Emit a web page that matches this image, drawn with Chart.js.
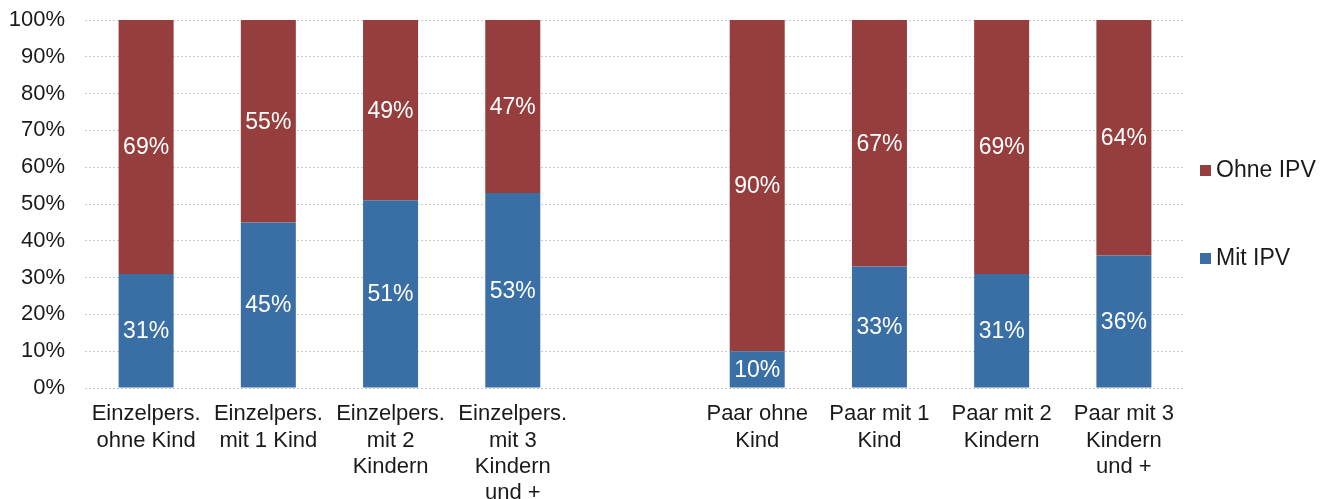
<!DOCTYPE html>
<html>
<head>
<meta charset="utf-8">
<script src="https://cdn.jsdelivr.net/npm/chart.js@4/dist/chart.umd.min.js"></script>
<style>
  html, body { margin: 0; padding: 0; background: #fff; }
  #wrap { width: 1335px; height: 499px; position: relative; }
</style>
</head>
<body>
<div id="wrap"><canvas id="c" width="1335" height="499"></canvas></div>
<script>
// Household types (empty slot separates singles from couples)
const categories = [
  ["Einzelpers.", "ohne Kind"],
  ["Einzelpers.", "mit 1 Kind"],
  ["Einzelpers.", "mit 2", "Kindern"],
  ["Einzelpers.", "mit 3", "Kindern", "und +"],
  "",
  ["Paar ohne", "Kind"],
  ["Paar mit 1", "Kind"],
  ["Paar mit 2", "Kindern"],
  ["Paar mit 3", "Kindern", "und +"]
];
const mitIPV  = [31, 45, 51, 53, null, 10, 33, 31, 36];
const ohneIPV = [69, 55, 49, 47, null, 90, 67, 69, 64];
const yTicks = [0, 10, 20, 30, 40, 50, 60, 70, 80, 90, 100];

const FONT = "'Liberation Sans', Arial, sans-serif";
const BLUE = "#3A6FA6";
const RED = "#953E3D";

// White percentage labels centred in each segment
const segmentLabels = {
  id: "segmentLabels",
  afterDatasetsDraw(chart) {
    const ctx = chart.ctx;
    ctx.save();
    ctx.fillStyle = "#ffffff";
    ctx.font = "23px " + FONT;
    ctx.textAlign = "center";
    ctx.textBaseline = "middle";
    chart.data.datasets.forEach((ds, di) => {
      chart.getDatasetMeta(di).data.forEach((bar, i) => {
        const v = ds.data[i];
        if (v == null) return;
        const cy = (bar.y + bar.base) / 2;
        ctx.fillText(v + "%", bar.x, cy + 1);
      });
    });
    ctx.restore();
  }
};

// Legend on the right side
const sideLegend = {
  id: "sideLegend",
  afterDraw(chart) {
    const ctx = chart.ctx;
    const items = [
      { text: "Ohne IPV", color: RED, y: 170 },
      { text: "Mit IPV", color: BLUE, y: 258 }
    ];
    ctx.save();
    ctx.font = "23px " + FONT;
    ctx.textBaseline = "middle";
    ctx.textAlign = "left";
    items.forEach(it => {
      ctx.fillStyle = it.color;
      ctx.fillRect(1200, it.y - 5, 11, 11);
      ctx.fillStyle = "#1a1a1a";
      ctx.fillText(it.text, 1216, it.y + 1);
    });
    ctx.restore();
  }
};

new Chart(document.getElementById("c"), {
  type: "bar",
  data: {
    labels: categories,
    datasets: [
      { label: "Mit IPV", data: mitIPV, backgroundColor: BLUE, stack: "s" },
      { label: "Ohne IPV", data: ohneIPV, backgroundColor: RED, stack: "s" }
    ]
  },
  options: {
    responsive: false,
    animation: false,
    devicePixelRatio: 1,
    layout: { padding: { top: 20, right: 150, left: 0, bottom: 0 } },
    datasets: { bar: { categoryPercentage: 1.0, barPercentage: 0.45 } },
    plugins: { legend: { display: false }, tooltip: { enabled: false } },
    scales: {
      x: {
        stacked: true,
        grid: { display: false, drawTicks: false },
        border: { display: false },
        ticks: {
          color: "#1a1a1a",
          font: { family: FONT, size: 22, lineHeight: 1.2 },
          padding: 13,
          maxRotation: 0,
          autoSkip: false
        },
        afterFit(scale) {
          scale.height = 111;
          scale.paddingTop = 0;
          scale.paddingBottom = 0;
        }
      },
      y: {
        stacked: true,
        min: 0,
        max: 100,
        afterBuildTicks(scale) { scale.ticks = yTicks.map(v => ({ value: v })); },
        grid: { color: "#c9c9c9", lineWidth: 1, drawTicks: false },
        border: { display: false, dash: [2, 2] },
        ticks: {
          color: "#1a1a1a",
          font: { family: FONT, size: 22 },
          padding: 20,
          callback: v => v + "%"
        },
        afterFit(scale) {
          scale.width = 85;
          scale.paddingTop = 0;
          scale.paddingBottom = 0;
        }
      }
    }
  },
  plugins: [segmentLabels, sideLegend]
});
</script>
</body>
</html>
